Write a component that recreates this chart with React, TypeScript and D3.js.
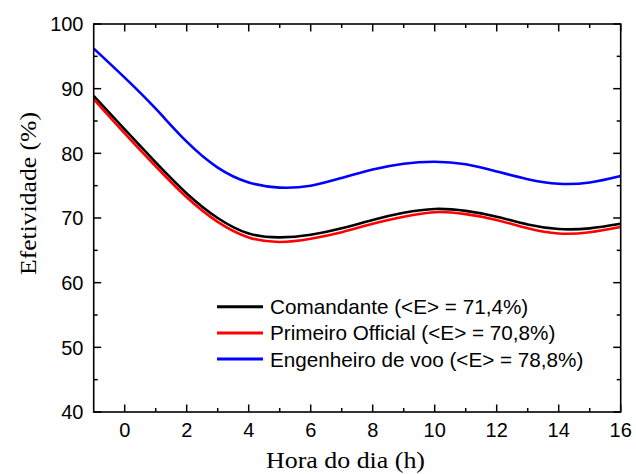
import React from "react";
import * as d3 from "d3";

// Hours of the day (x) and effectiveness (%) per crew role
const hours = [-1, 0, 1, 2, 3, 4, 5, 6, 7, 8, 9, 10, 11, 12, 13, 14, 15, 16];
const comandante = [88.9, 83.7, 78.6, 73.8, 70.0, 67.6, 67.0, 67.4, 68.4, 69.7, 70.8, 71.4, 71.1, 70.2, 69.0, 68.3, 68.4, 69.1];
const primeiroOficial = [88.4, 83.1, 78.0, 73.2, 69.4, 67.0, 66.3, 66.8, 67.8, 69.1, 70.2, 70.9, 70.6, 69.7, 68.4, 67.6, 67.8, 68.6];
const engenheiro = [96.2, 91.7, 86.9, 81.8, 77.8, 75.5, 74.7, 75.0, 76.2, 77.5, 78.4, 78.7, 78.3, 77.2, 76.0, 75.3, 75.5, 76.5];

const seriesNames = [
  "Comandante (<E> = 71,4%)",
  "Primeiro Official (<E> = 70,8%)",
  "Engenheiro de voo (<E> = 78,8%)",
];
const seriesColors = ["#000000", "#ff0000", "#0000ff"];

const xTicks = [0, 2, 4, 6, 8, 10, 12, 14, 16];
const xMinorTicks = [1, 3, 5, 7, 9, 11, 13, 15];
const yTicks = [40, 50, 60, 70, 80, 90, 100];
const yMinorTicks = [45, 55, 65, 75, 85, 95];

const W = 636;
const H = 474;
const left = 93.7;
const right = 620.7;
const top = 24;
const bottom = 412;

export default function App() {
  const x = d3.scaleLinear().domain([-1, 16]).range([left, right]);
  const y = d3.scaleLinear().domain([40, 100]).range([bottom, top]);
  const line = d3
    .line<number>()
    .x((_, i) => x(hours[i]))
    .y((d) => y(d))
    .curve(d3.curveNatural);

  const allSeries = [comandante, primeiroOficial, engenheiro];
  const tickFont = "'Liberation Sans', Arial, sans-serif";
  const titleFont = "'Liberation Serif', 'Times New Roman', serif";
  const major = 7.5;
  const minor = 4;

  return (
    <svg
      width={W}
      height={H}
      style={{ position: "absolute", left: 0, top: 0, background: "#fff" }}
    >
      <rect x={0} y={0} width={W} height={H} fill="#fff" />

      {allSeries.map((s, i) => (
        <path
          key={i}
          d={line(s) || ""}
          fill="none"
          stroke={seriesColors[i]}
          strokeWidth={2.6}
        />
      ))}

      {/* frame */}
      <rect
        x={left}
        y={top}
        width={right - left}
        height={bottom - top}
        fill="none"
        stroke="#000"
        strokeWidth={1.6}
      />

      {/* x ticks, bottom and top, pointing inward */}
      {xTicks.map((t) => (
        <g key={"xt" + t}>
          <line x1={x(t)} x2={x(t)} y1={bottom} y2={bottom - major} stroke="#000" strokeWidth={1.5} />
          <line x1={x(t)} x2={x(t)} y1={top} y2={top + major} stroke="#000" strokeWidth={1.5} />
          <text
            x={x(t)}
            y={437}
            textAnchor="middle"
            fontFamily={tickFont}
            fontSize={20}
            fill="#000"
          >
            {t}
          </text>
        </g>
      ))}
      {xMinorTicks.map((t) => (
        <g key={"xm" + t}>
          <line x1={x(t)} x2={x(t)} y1={bottom} y2={bottom - minor} stroke="#000" strokeWidth={1.5} />
          <line x1={x(t)} x2={x(t)} y1={top} y2={top + minor} stroke="#000" strokeWidth={1.5} />
        </g>
      ))}

      {/* y ticks, left and right, pointing inward */}
      {yTicks.map((t) => (
        <g key={"yt" + t}>
          <line x1={left} x2={left + major} y1={y(t)} y2={y(t)} stroke="#000" strokeWidth={1.5} />
          <line x1={right} x2={right - major} y1={y(t)} y2={y(t)} stroke="#000" strokeWidth={1.5} />
          <text
            x={83.5}
            y={y(t)}
            dy="0.36em"
            textAnchor="end"
            fontFamily={tickFont}
            fontSize={20}
            fill="#000"
          >
            {t}
          </text>
        </g>
      ))}
      {yMinorTicks.map((t) => (
        <g key={"ym" + t}>
          <line x1={left} x2={left + minor} y1={y(t)} y2={y(t)} stroke="#000" strokeWidth={1.5} />
          <line x1={right} x2={right - minor} y1={y(t)} y2={y(t)} stroke="#000" strokeWidth={1.5} />
        </g>
      ))}

      {/* axis titles */}
      <text
        x={345.5}
        y={467.5}
        textAnchor="middle"
        fontFamily={titleFont}
        fontSize={23}
        textLength={159}
        lengthAdjust="spacingAndGlyphs"
        fill="#000"
      >
        Hora do dia (h)
      </text>
      <text
        transform={`translate(35.5, 193.5) rotate(-90)`}
        textAnchor="middle"
        fontFamily={titleFont}
        fontSize={24}
        textLength={163}
        lengthAdjust="spacingAndGlyphs"
        fill="#000"
      >
        Efetividade (%)
      </text>

      {/* legend */}
      {seriesNames.map((name, i) => {
        const ly = 306.7 + i * 26.2;
        return (
          <g key={"lg" + i}>
            <line x1={217} x2={263} y1={ly} y2={ly} stroke={seriesColors[i]} strokeWidth={3} />
            <text
              x={270}
              y={ly}
              dy="0.36em"
              fontFamily={tickFont}
              fontSize={20.7}
              fill="#000"
            >
              {name}
            </text>
          </g>
        );
      })}
    </svg>
  );
}
